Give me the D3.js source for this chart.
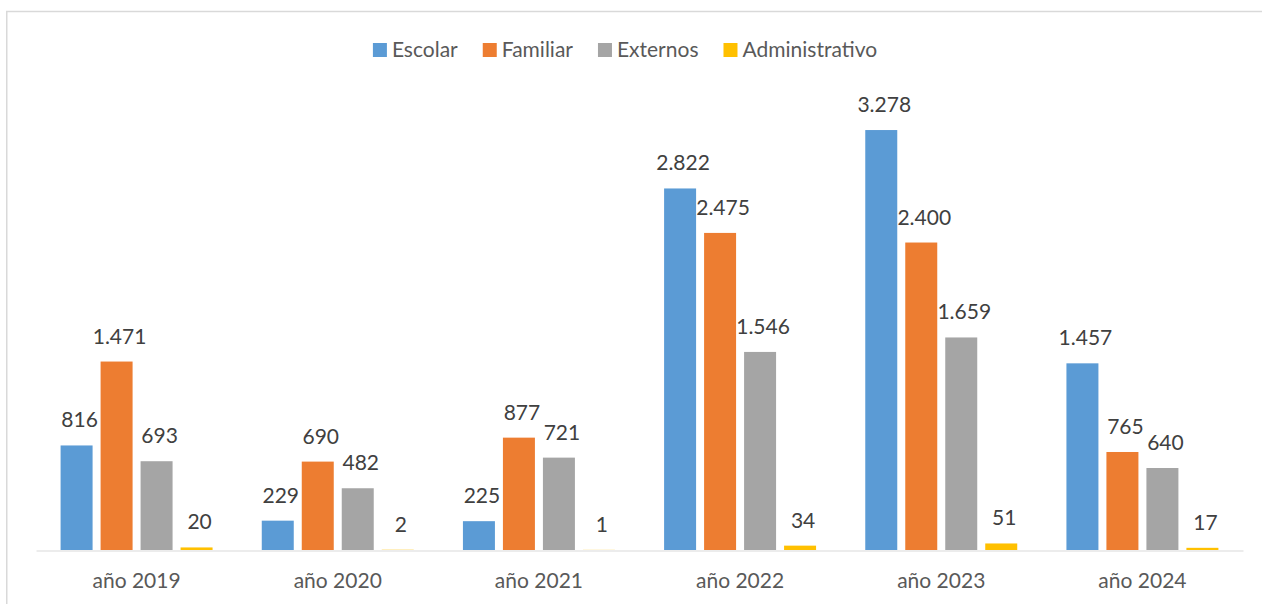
<!DOCTYPE html>
<html>
<head>
<meta charset="utf-8">
<script src="https://d3js.org/d3.v7.min.js"></script>
<style>
  body { margin: 0; background: #fff; }
  svg text { font-family: Lato, "Liberation Sans", sans-serif; }
</style>
</head>
<body>
<svg width="1262" height="604"></svg>
<script>
  // data
  var years = ["año 2019", "año 2020", "año 2021", "año 2022", "año 2023", "año 2024"];
  var series = ["Escolar", "Familiar", "Externos", "Administrativo"];
  var escolar = [816, 229, 225, 2822, 3278, 1457];
  var familiar = [1471, 690, 877, 2475, 2400, 765];
  var externos = [693, 482, 721, 1546, 1659, 640];
  var administrativo = [20, 2, 1, 34, 51, 17];

  var colors = ["#5B9BD5", "#ED7D31", "#A5A5A5", "#FFC000"];
  var values = [escolar, familiar, externos, administrativo];

  var locale = d3.formatLocale({decimal: ",", thousands: ".", grouping: [3], currency: ["", "€"]});
  var fmt = locale.format(",d");

  var svg = d3.select("svg");

  // frame (runs off the right and bottom edge like in the source)
  svg.append("rect")
      .attr("x", 6.75)
      .attr("y", 11.5)
      .attr("width", 1300)
      .attr("height", 650)
      .attr("fill", "none")
      .attr("stroke", "#D9D9D9")
      .attr("stroke-width", 1.5);

  var x0 = d3.scaleBand()
      .domain(years)
      .range([36, 1243]);

  var x1 = d3.scaleBand()
      .domain(series)
      .range([0, x0.bandwidth()])
      .paddingInner(0.2)
      .paddingOuter(0.615);

  var y = d3.scaleLinear()
      .domain([0, 3500])
      .range([550, 101.6]);

  var rows = years.map(function(yr, i) {
      return series.map(function(s, j) {
          return {year: yr, key: s, value: values[j][i], color: colors[j]};
      });
  });

  var groups = svg.append("g")
      .attr("class", "bars")
      .selectAll("g")
      .data(rows)
      .enter().append("g")
      .attr("transform", function(d, i) { return "translate(" + x0(years[i]) + ",0)"; });

  groups.selectAll("rect")
      .data(function(d) { return d; })
      .enter().append("rect")
      .attr("x", function(d) { return x1(d.key); })
      .attr("y", function(d) { return y(d.value); })
      .attr("width", x1.bandwidth())
      .attr("height", function(d) { return y(0) - y(d.value); })
      .attr("fill", function(d) { return d.color; });

  groups.selectAll("text")
      .data(function(d) { return d; })
      .enter().append("text")
      .attr("x", function(d) { return x1(d.key) + x1.bandwidth() / 2 + 3; })
      .attr("y", function(d) { return y(d.value) - 18; })
      .attr("text-anchor", "middle")
      .attr("font-size", 21)
      .attr("fill", "#404040")
      .text(function(d) { return fmt(d.value); });

  // x axis
  var xAxis = svg.append("g")
      .attr("transform", "translate(0,550.5)")
      .call(d3.axisBottom(x0).tickSize(0).tickPadding(23));

  xAxis.select(".domain")
      .attr("stroke", "#D9D9D9")
      .attr("stroke-width", 1.2);

  xAxis.selectAll("text")
      .attr("font-size", 21)
      .attr("fill", "#595959")
      .attr("dy", "0.71em");

  // legend
  var legend = svg.append("g").attr("class", "legend");

  var items = legend.selectAll("g")
      .data(series)
      .enter().append("g");

  items.append("rect")
      .attr("width", 14)
      .attr("height", 14)
      .attr("y", 43)
      .attr("fill", function(d, i) { return colors[i]; });

  items.append("text")
      .attr("x", 19)
      .attr("y", 57)
      .attr("font-size", 21)
      .attr("fill", "#595959")
      .text(function(d) { return d; });

  var pos = 0;
  items.each(function() {
      var g = d3.select(this);
      g.attr("transform", "translate(" + pos + ",0)");
      pos += 19 + g.select("text").node().getComputedTextLength() + 25;
  });
  var total = pos - 25;
  legend.attr("transform", "translate(" + (625 - total / 2) + ",0)");
</script>
</body>
</html>
